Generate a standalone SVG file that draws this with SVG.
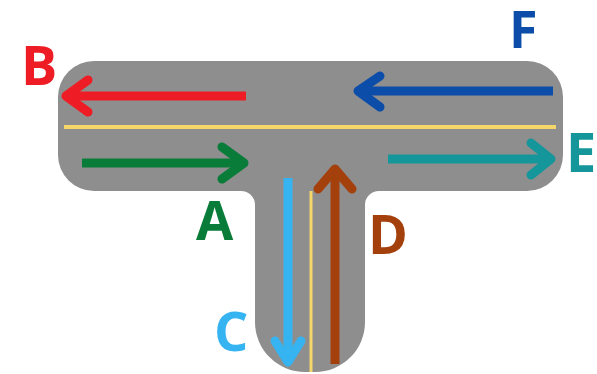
<svg xmlns="http://www.w3.org/2000/svg" width="597" height="374" viewBox="0 0 597 374">
<style>
.lbl{font-family:"Open Sans","Liberation Sans",sans-serif;font-weight:bold;font-size:54px}
.shaft{fill:none;stroke-width:9;stroke-linecap:butt}
.head{fill:none;stroke-width:9;stroke-linecap:round;stroke-linejoin:round}
.lane{stroke:#F5D66A;fill:none}
</style>
<rect width="597" height="374" fill="#ffffff"/>
<g id="road">
<path d="M 94,61 H 527 A 36 36 0 0 1 563,97 V 155 A 36 36 0 0 1 527,191 H 379 A 14 14 0 0 0 365,205 V 322 A 50 50 0 0 1 315,372 H 305 A 50 50 0 0 1 255,322 V 205 A 14 14 0 0 0 241,191 H 94 A 36 36 0 0 1 58,155 V 97 A 36 36 0 0 1 94,61 Z" fill="#8E8E8E"/>
<line class="lane" x1="64" y1="127" x2="556" y2="127" stroke-width="4"/>
<line class="lane" x1="311" y1="191" x2="311" y2="372" stroke-width="3"/>
</g>
<g id="connectors">
<g id="arrow-B" stroke="#EE1C24">
<line class="shaft" x1="246" y1="96" x2="68" y2="96"/>
<polyline class="head" points="88,80 66,96 88,112"/>
</g>
<g id="arrow-A" stroke="#0A7C3A">
<line class="shaft" x1="82" y1="163" x2="242" y2="163"/>
<polyline class="head" points="222,147 244,163 222,179"/>
</g>
<g id="arrow-F" stroke="#0B4DA8">
<line class="shaft" x1="553" y1="91" x2="360" y2="91"/>
<polyline class="head" points="380,76 358,91 380,107"/>
</g>
<g id="arrow-E" stroke="#15969A">
<line class="shaft" x1="388" y1="159" x2="549" y2="159"/>
<polyline class="head" points="531,143 551,159 531,175"/>
</g>
<g id="arrow-C" stroke="#36B4F2">
<line class="shaft" x1="288" y1="178" x2="288" y2="360"/>
<polyline class="head" points="275,341 288,362 301,341"/>
</g>
<g id="arrow-D" stroke="#A4400C">
<line class="shaft" x1="335" y1="364" x2="335" y2="171"/>
<polyline class="head" points="318,189 335,169 352,189"/>
</g>
</g>
<g id="label-B"><text class="lbl" x="21" y="85" fill="#EE1C24">B</text></g>
<g id="label-F"><text class="lbl" x="509" y="48" fill="#0B4DA8" style="font-size:52px">F</text></g>
<g id="label-E"><text class="lbl" x="566" y="172" fill="#15969A">E</text></g>
<g id="label-A"><text class="lbl" x="196" y="240" fill="#0A7C3A">A</text></g>
<g id="label-D"><text class="lbl" x="368" y="254" fill="#A4400C">D</text></g>
<g id="label-C"><text class="lbl" x="214" y="351" fill="#36B4F2">C</text></g>
</svg>
